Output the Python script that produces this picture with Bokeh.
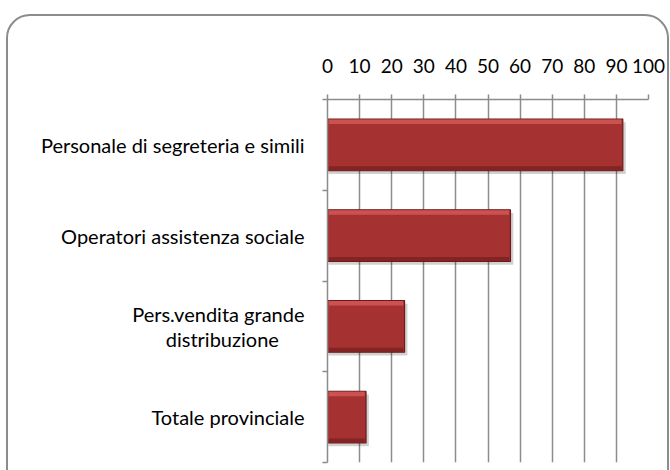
from bokeh.plotting import figure
from bokeh.models import Range1d, LinearAxis, FixedTicker, ColumnDataSource, InlineStyleSheet
from bokeh.transform import dodge
from bokeh.embed import file_html
from bokeh.resources import INLINE

categories = ["Personale di segreteria e simili",
              "Operatori assistenza sociale",
              "Pers.vendita grande\ndistribuzione" + "\u00a0" * 5,
              "Totale provinciale"]
values = [92, 57, 24, 12]
x_ticks = [0, 10, 20, 30, 40, 50, 60, 70, 80, 90, 100]

n = len(categories)
ypos = [n - 1 - i + 0.5 for i in range(n)]
src = ColumnDataSource(dict(y=ypos, v=values, cat=categories))

FONT = "Lato"
GRAY = "#8c8c8c"

p = figure(output_backend="svg", toolbar_location=None,
           frame_width=321, frame_height=363,
           min_border_left=327, min_border_top=99,
           min_border_right=22, min_border_bottom=8,
           x_range=Range1d(0, 100), y_range=Range1d(0, n),
           x_axis_location="above", y_axis_location=None)
p.outline_line_color = None
p.stylesheets = [InlineStyleSheet(css="""
:host { position: relative; overflow: clip; }
:host::after { content: ""; position: absolute; left: 6px; right: 1px;
  top: 14px; bottom: -40px; border: 2px solid #8c8c8c; border-radius: 24px;
  pointer-events: none; box-sizing: border-box; }
""")]

# top axis
xa = p.xaxis[0]
xa.ticker = FixedTicker(ticks=x_ticks)
xa.axis_line_color = GRAY
xa.axis_line_width = 1.5
xa.major_tick_line_color = GRAY
xa.major_tick_line_width = 1.5
xa.major_tick_out = 5
xa.major_tick_in = 0
xa.minor_tick_line_color = None
xa.major_label_standoff = 22
xa.major_label_text_font = FONT
xa.major_label_text_font_size = "19px"
xa.major_label_text_color = "#000000"

p.xgrid.ticker = FixedTicker(ticks=x_ticks)
p.xgrid.grid_line_color = GRAY
p.xgrid.grid_line_width = 1.5
p.ygrid.grid_line_color = None

# left axis: labels at category centres, ticks at category boundaries
la = LinearAxis(ticker=FixedTicker(ticks=ypos, minor_ticks=list(range(n + 1))))
la.major_label_overrides = {y: c for y, c in zip(ypos, categories)}
la.axis_line_color = GRAY
la.axis_line_width = 1.5
la.major_tick_line_color = None
la.major_tick_out = 0
la.major_tick_in = 0
la.minor_tick_line_color = GRAY
la.minor_tick_line_width = 1.5
la.minor_tick_out = 5
la.minor_tick_in = 0
la.major_label_standoff = 18
la.major_label_text_font = FONT
la.major_label_text_font_size = "20px"
la.major_label_text_line_height = 1.05
la.major_label_text_color = "#000000"
p.add_layout(la, "left")

# bars: soft shadow, body, bevel highlight and dark lower edge
p.hbar(y=dodge("y", -0.035), right=dodge("v", 0.9), left=0.3, height=0.57,
       source=src, fill_color="#000000", fill_alpha=0.18, line_color=None)
p.hbar(y="y", right="v", left=0, height=0.57, source=src,
       fill_color="#a53131", line_color="#6b1b1b", line_width=1.2)
p.hbar(y=dodge("y", 0.255), right=dodge("v", -0.4), left=0.4, height=0.05,
       source=src, fill_color="#d65a5a", fill_alpha=0.8, line_color=None)
p.hbar(y=dodge("y", -0.258), right=dodge("v", -0.4), left=0.4, height=0.045,
       source=src, fill_color="#7a2020", fill_alpha=0.8, line_color=None)

open("out.html", "w").write(file_html(p, INLINE))
